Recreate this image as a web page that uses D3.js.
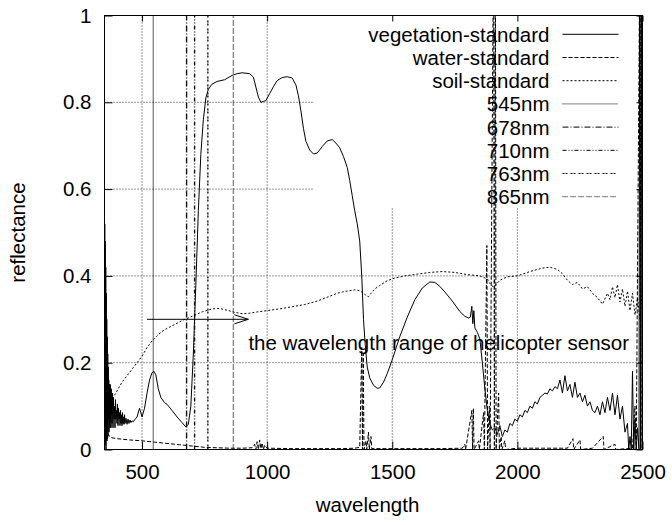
<!DOCTYPE html>
<html>
<head>
<meta charset="utf-8">
<script src="https://cdn.jsdelivr.net/npm/d3@7"></script>
<style>
  html, body { margin: 0; padding: 0; background: #fff; }
  svg { display: block; }
  text { font-family: "Liberation Sans", Arial, Helvetica, sans-serif; fill: #000; }
</style>
</head>
<body>
<svg id="chart" width="672" height="525"></svg>
<script>
// ---------------- data ----------------
const seriesNames = ["vegetation-standard", "water-standard", "soil-standard", "545nm", "678nm", "710nm", "763nm", "865nm"];
const markerWavelengths = [545, 678, 710, 763, 865];

const xTicks = [500, 1000, 1500, 2000, 2500];
const yTicks = [0, 0.2, 0.4, 0.6, 0.8, 1];

const vegWl = [350,351,352,353,354,355,356,357,358,359,360,361,362,363,364,365,366,367,368,369,370,371,372,373,374,375,376,377,378,379,380,382,384,386,388,390,392,394,396,398,400,402,404,406,408,410,412,414,416,418,420,422,424,426,428,430,432,436,440,444,448,452,456,460,465,470,480,490,500,510,520,530,540,548,555,565,575,590,600,620,640,660,675,685,695,705,715,725,735,745,755,765,780,800,830,860,880,900,930,945,955,965,975,985,995,1010,1025,1040,1060,1080,1100,1115,1125,1135,1145,1155,1170,1185,1200,1220,1240,1260,1275,1290,1305,1320,1330,1340,1350,1360,1370,1378,1385,1392,1400,1410,1425,1440,1450,1465,1480,1500,1530,1560,1590,1620,1650,1670,1690,1710,1740,1770,1790,1805,1812,1818,1822,1826,1830,1840,1850,1860,1870,1880,1890,1900,1910,1920,1930,1940,1950,1960,1970,1980,1990,2000,2010,2020,2030,2040,2050,2060,2070,2080,2090,2100,2110,2120,2130,2140,2150,2160,2170,2180,2190,2200,2210,2220,2230,2240,2250,2260,2270,2280,2290,2300,2310,2320,2330,2340,2350,2360,2370,2380,2390,2400,2410,2420,2430,2440,2445,2450,2455,2460,2465,2470,2475,2480,2486,2489,2492,2495,2498,2500];
const vegR  = [0.0,0.52,0.01,0.48,0.02,0.42,0.0,0.36,0.03,0.30,0.02,0.26,0.06,0.22,0.03,0.19,0.07,0.16,0.04,0.15,0.06,0.14,0.05,0.15,0.07,0.12,0.05,0.14,0.08,0.11,0.06,0.13,0.05,0.12,0.07,0.10,0.05,0.115,0.07,0.09,0.06,0.105,0.055,0.095,0.07,0.085,0.055,0.09,0.06,0.08,0.055,0.085,0.06,0.075,0.058,0.08,0.06,0.072,0.058,0.07,0.06,0.068,0.062,0.066,0.064,0.068,0.075,0.095,0.075,0.095,0.13,0.16,0.177,0.18,0.172,0.14,0.12,0.108,0.104,0.09,0.075,0.062,0.052,0.058,0.10,0.22,0.38,0.55,0.68,0.76,0.81,0.83,0.842,0.848,0.852,0.862,0.866,0.868,0.866,0.858,0.835,0.812,0.80,0.802,0.804,0.82,0.836,0.85,0.857,0.859,0.856,0.84,0.815,0.78,0.74,0.71,0.69,0.681,0.683,0.698,0.711,0.714,0.706,0.695,0.675,0.65,0.62,0.585,0.55,0.52,0.48,0.40,0.30,0.24,0.19,0.165,0.148,0.141,0.142,0.155,0.175,0.207,0.26,0.305,0.345,0.372,0.386,0.385,0.376,0.363,0.342,0.318,0.307,0.303,0.305,0.33,0.29,0.32,0.28,0.27,0.255,0.20,0.14,0.09,0.06,0.045,0.05,0.035,0.055,0.03,0.045,0.04,0.06,0.055,0.07,0.065,0.08,0.075,0.09,0.085,0.10,0.095,0.11,0.105,0.12,0.125,0.13,0.128,0.14,0.135,0.145,0.14,0.16,0.13,0.17,0.135,0.15,0.12,0.155,0.12,0.13,0.11,0.125,0.10,0.11,0.09,0.085,0.10,0.08,0.11,0.085,0.12,0.09,0.13,0.08,0.125,0.07,0.10,0.04,0.06,0.0,0.03,0.0,0.18,0.0,0.07,0.0,0.05,0.0,1.2,0.0,1.2,0.0,0.0];

const waterWl = [350,352,355,358,362,366,370,380,400,450,500,550,600,650,700,750,800,850,900,940,950,955,960,965,970,975,980,985,990,1000,1100,1200,1300,1350,1370,1378,1381,1384,1387,1395,1398,1405,1408,1415,1418,1500,1600,1700,1780,1790,1793,1818,1821,1824,1827,1845,1848,1865,1868,1878,1881,1888,1891,1905,1908,1912,1915,1925,1928,1935,1938,1950,1953,2000,2100,2200,2222,2225,2250,2253,2300,2343,2346,2390,2393,2460,2470,2475,2490,2494,2500];
const waterR  = [0.0,0.06,0.02,0.045,0.025,0.035,0.03,0.027,0.025,0.022,0.02,0.017,0.014,0.011,0.008,0.005,0.004,0.003,0.003,0.004,0.012,0.0,0.018,0.0,0.022,0.002,0.015,0.0,0.01,0.003,0.002,0.002,0.002,0.003,0.005,0.235,0.0,0.22,0.0,0.02,0.0,0.04,0.0,0.03,0.002,0.002,0.002,0.002,0.003,0.012,0.0,0.09,0.0,0.095,0.0,0.02,0.0,0.085,0.0,0.47,0.0,0.10,0.0,1.2,0.0,1.2,0.0,0.13,0.0,0.03,0.0,0.02,0.0,0.003,0.003,0.003,0.025,0.0,0.022,0.0,0.003,0.03,0.0,0.012,0.0,0.003,0.10,0.0,1.2,0.0,0.0];

const soilWl = [350,353,356,360,365,370,380,390,400,420,440,460,480,500,520,540,560,580,600,630,660,700,740,780,810,840,870,900,930,960,1000,1050,1100,1150,1200,1250,1280,1300,1330,1350,1370,1385,1395,1405,1415,1430,1450,1480,1510,1550,1600,1650,1700,1750,1800,1850,1880,1895,1905,1915,1930,1960,2000,2050,2100,2130,2160,2180,2200,2220,2240,2260,2280,2300,2320,2340,2360,2370,2380,2390,2400,2410,2420,2430,2440,2450,2460,2470,2480,2490,2500];
const soilR  = [0.02,0.12,0.06,0.10,0.09,0.105,0.115,0.125,0.135,0.155,0.17,0.185,0.20,0.215,0.235,0.25,0.262,0.272,0.279,0.288,0.297,0.307,0.317,0.324,0.325,0.321,0.316,0.313,0.314,0.317,0.32,0.324,0.329,0.334,0.342,0.353,0.36,0.363,0.366,0.368,0.366,0.36,0.355,0.352,0.36,0.37,0.378,0.389,0.395,0.40,0.404,0.408,0.41,0.408,0.403,0.40,0.393,0.378,0.375,0.38,0.39,0.398,0.40,0.41,0.418,0.42,0.415,0.405,0.39,0.38,0.385,0.37,0.375,0.36,0.35,0.335,0.36,0.345,0.375,0.35,0.38,0.34,0.37,0.33,0.365,0.32,0.36,0.31,0.35,0.30,0.38];

const arrowFrom = [520, 0.3];
const arrowTo = [925, 0.3];
const annotationText = "the wavelength range of helicopter sensor";
const annotationAt = [925, 0.23];
const xTitle = "wavelength";
const yTitle = "reflectance";

// ---------------- layout ----------------
const svg = d3.select("#chart");
const L = 104.5, R = 642.5, T = 15.5, B = 449.5;
const FS = 20.5;

const x = d3.scaleLinear().domain([350, 2500]).range([L, R]);
const y = d3.scaleLinear().domain([0, 1]).range([B, T]);

const dashStyles = [null, "4,2", "2,2", "1,1", "6,2,1,2", "4,2,1,2,1,2", "2,1,2,3", "1,1,1,1,1,3"];

// key box area (grid lines skip it)
const keyBox = {x0: 313, x1: R, y0: T, y1: 207};

const grid = svg.append("g").attr("stroke", "#333").attr("stroke-width", 1).attr("stroke-dasharray", "1,2").attr("fill", "none");
xTicks.filter(v => v > 350 && v < 2500).forEach(v => {
  const px = x(v);
  grid.append("line").attr("x1", px).attr("x2", px).attr("y1", B).attr("y2", px > keyBox.x0 ? keyBox.y1 : T);
});
yTicks.filter(v => v > 0 && v < 1).forEach(v => {
  const py = y(v);
  grid.append("line").attr("x1", L).attr("x2", py < keyBox.y1 ? keyBox.x0 : R).attr("y1", py).attr("y2", py);
});

// axes with d3 (ticks inward)
const xAxis = d3.axisBottom(x).tickValues(xTicks).tickSize(-8).tickPadding(15).tickFormat(d3.format("d"));
const xg = svg.append("g").attr("transform", `translate(0,${B})`).call(xAxis);
const yAxis = d3.axisLeft(y).tickValues(yTicks).tickSize(-8).tickPadding(13).tickFormat(d => d === 0 || d === 1 ? String(d) : d.toFixed(1));
const yg = svg.append("g").attr("transform", `translate(${L},0)`).call(yAxis);
[xg, yg].forEach(g => {
  g.select(".domain").remove();
  g.selectAll("line").attr("stroke", "#000");
  g.selectAll("text").attr("font-size", FS).attr("font-family", '"Liberation Sans", Arial, sans-serif').attr("fill", "#000");
});
// mirrored ticks (top and right)
const xTop = d3.axisTop(x).tickValues(xTicks).tickSize(-6).tickFormat("");
svg.append("g").attr("transform", `translate(0,${T})`).call(xTop).call(g => { g.select(".domain").remove(); g.selectAll("line").attr("stroke", "#000"); });
const yRight = d3.axisRight(y).tickValues(yTicks).tickSize(-6).tickFormat("");
svg.append("g").attr("transform", `translate(${R},0)`).call(yRight).call(g => { g.select(".domain").remove(); g.selectAll("line").attr("stroke", "#000"); });

// clip
svg.append("clipPath").attr("id", "clip").append("rect").attr("x", L).attr("y", T - 0.5).attr("width", R - L).attr("height", B - T + 1);
const plot = svg.append("g").attr("clip-path", "url(#clip)");

const line = d3.line().x(d => x(d[0])).y(d => y(d[1]));
const zip = (a, b) => a.map((v, i) => [v, b[i]]);

const curves = [zip(vegWl, vegR), zip(waterWl, waterR), zip(soilWl, soilR)];
curves.forEach((pts, i) => {
  plot.append("path").datum(pts).attr("d", line)
    .attr("fill", "none").attr("stroke", "#000").attr("stroke-width", 1)
    .attr("stroke-dasharray", dashStyles[i]);
});
markerWavelengths.forEach((w, i) => {
  plot.append("path").datum([[w, 0], [w, 1]]).attr("d", line)
    .attr("fill", "none").attr("stroke", "#111").attr("stroke-width", 1.4)
    .attr("stroke-dasharray", dashStyles[i + 3]);
});

// border
svg.append("rect").attr("x", L).attr("y", T).attr("width", R - L).attr("height", B - T)
  .attr("fill", "none").attr("stroke", "#000").attr("stroke-width", 1);

// arrow
const ax0 = x(arrowFrom[0]), ay = y(arrowFrom[1]), ax1 = x(arrowTo[0]);
svg.append("line").attr("x1", ax0).attr("x2", ax1).attr("y1", ay).attr("y2", ay).attr("stroke", "#000");
svg.append("path").attr("d", `M${ax1 - 14},${ay - 4.5}L${ax1},${ay}L${ax1 - 14},${ay + 4.5}`).attr("fill", "none").attr("stroke", "#000");
svg.append("text").attr("x", x(annotationAt[0])).attr("y", y(annotationAt[1])).attr("font-size", FS).text(annotationText);

// legend
const keyTextX = 549.5, keyL0 = 562.5, keyL1 = 618.5, keyY0 = 34.3, keyDY = 23.2;
seriesNames.forEach((name, i) => {
  const ky = keyY0 + keyDY * i;
  svg.append("text").attr("x", keyTextX).attr("y", ky + 7.5).attr("text-anchor", "end").attr("font-size", FS).text(name);
  svg.append("line").attr("x1", keyL0).attr("x2", keyL1).attr("y1", ky).attr("y2", ky)
    .attr("stroke", "#000").attr("stroke-width", 1)
    .attr("stroke-dasharray", dashStyles[i]);
});

// titles
svg.append("text").attr("x", (L + R) / 2 - 6).attr("y", 512).attr("text-anchor", "middle").attr("font-size", FS).text(xTitle);
svg.append("text").attr("transform", `translate(25,${(T + B) / 2}) rotate(-90)`).attr("text-anchor", "middle").attr("font-size", FS).text(yTitle);
</script>
</body>
</html>
